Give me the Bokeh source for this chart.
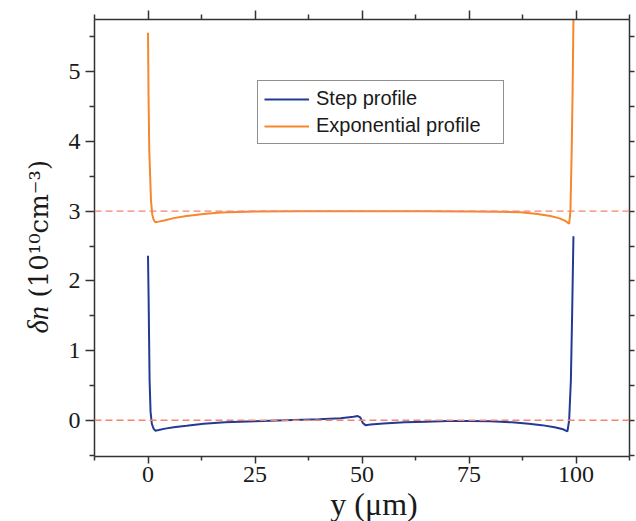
import math
from bokeh.plotting import figure
from bokeh.models import Range1d, LinearAxis, FixedTicker, Span, Legend, LegendItem, Label
from bokeh.embed import file_html
from bokeh.resources import INLINE

# ---------------- data ----------------
step_x = [0, 0.15, 0.37, 0.6, 0.9, 1.3, 1.7, 2.5, 4, 6, 9, 13, 18, 25, 32, 40, 45, 48, 49,
          49.6, 50.2, 50.8, 52, 55, 60, 65, 70, 75, 80, 85, 89, 92, 95, 97, 98.0,
          98.4, 98.8, 99.1, 99.4]
step_y = [2.36, 1.72, 0.57, 0.12, -0.05, -0.12, -0.15, -0.14, -0.12, -0.10, -0.08, -0.05,
          -0.03, -0.015, 0.0, 0.015, 0.03, 0.05, 0.06,
          0.04, -0.04, -0.07, -0.06, -0.045, -0.03, -0.02, -0.01, -0.01, -0.015, -0.03,
          -0.05, -0.07, -0.10, -0.13, -0.16,
          0.0, 0.57, 1.53, 2.64]

exp_x = [0, 0.14, 0.3, 0.7, 1.0, 1.3, 1.7, 2.5, 4, 6, 9, 13, 17, 25, 35, 50, 65, 75,
         82, 87, 91, 94, 96, 97.5, 98.4, 98.7, 99.0, 99.2, 99.45]
exp_y = [5.56, 4.58, 3.87, 3.15, 2.95, 2.88, 2.84, 2.85, 2.87, 2.90, 2.93, 2.96, 2.98,
         2.995, 3.0, 3.0, 3.0, 2.995,
         2.99, 2.985, 2.96, 2.93, 2.90, 2.86, 2.82, 3.0, 3.9, 4.7, 6.0]

series_names = ["Step profile", "Exponential profile"]
ref_levels = [0, 3]

x_major = [0, 25, 50, 75, 100]
x_minor = [-12.5, 12.5, 37.5, 62.5, 87.5, 112.5]
y_major = [0, 1, 2, 3, 4, 5]
y_minor = [-0.5, 0.5, 1.5, 2.5, 3.5, 4.5, 5.5]

# ---------------- layout ----------------
X0, X1 = -12.5, 112.5
Y0, Y1 = -0.52, 5.75
FL, FT, FW, FH = 94, 19, 535, 437   # frame position in the picture (px)


def dx(px):
    return X0 + (px - FL) * (X1 - X0) / FW


def dy(py):
    return Y1 - (py - FT) * (Y1 - Y0) / FH


SERIF = "Liberation Serif"
SANS = "Liberation Sans"
AX = "#333333"
TXT = "#1a1a1a"
NBSP = "\u00a0"

p = figure(frame_width=FW, frame_height=FH,
           x_range=Range1d(X0, X1), y_range=Range1d(Y0, Y1),
           x_axis_location=None, y_axis_location=None,
           output_backend="svg", toolbar_location=None,
           min_border_left=FL, min_border_right=7, min_border_top=FT, min_border_bottom=65)
p.outline_line_color = None
p.grid.visible = False
p.background_fill_color = "white"
p.border_fill_color = "white"


def make_axis(major, minor, labels, tick_out, minor_out, standoff=5):
    ax = LinearAxis(ticker=FixedTicker(ticks=major, minor_ticks=minor))
    ax.axis_line_color = AX
    ax.axis_line_width = 1.5
    ax.major_tick_line_color = AX
    ax.major_tick_line_width = 1.5
    ax.minor_tick_line_color = AX
    ax.minor_tick_line_width = 1.5
    ax.major_tick_in = 0
    ax.major_tick_out = tick_out
    ax.minor_tick_in = 0
    ax.minor_tick_out = minor_out
    if labels:
        ax.major_label_text_font = SERIF
        ax.major_label_text_font_size = "24px"
        ax.major_label_text_color = TXT
        ax.major_label_standoff = standoff
    else:
        ax.major_label_overrides = {t: "" for t in major}
        ax.major_label_text_font_size = "1px"
        ax.major_label_standoff = 0
    return ax

xaxis = make_axis(x_major, x_minor, True, 7, 4, standoff=3)
xaxis.axis_label = NBSP * 3 + "y (μm)"
xaxis.axis_label_text_font = SERIF
xaxis.axis_label_text_font_style = "normal"
xaxis.axis_label_text_font_size = "32px"
xaxis.axis_label_text_color = TXT
xaxis.axis_label_standoff = 1
p.add_layout(xaxis, "below")
p.add_layout(make_axis(y_major, y_minor, True, 9, 5, standoff=5), "left")
p.add_layout(make_axis(x_major, x_minor, False, 9, 5), "above")
p.add_layout(make_axis(y_major, y_minor, False, 5, 5), "right")

for lev in ref_levels:
    p.add_layout(Span(location=lev, dimension="width", line_color="#f4846a",
                      line_width=1.3, line_dash="7 4"))

r1 = p.line(step_x, step_y, line_color="#233a94", line_width=2)
r2 = p.line(exp_x, exp_y, line_color="#f7872b", line_width=2)

legend = Legend(items=[LegendItem(label=series_names[0], renderers=[r1]),
                       LegendItem(label=series_names[1], renderers=[r2])],
                location=(163, 312))
legend.border_line_color = "#222222"
legend.border_line_width = 1
legend.background_fill_color = "white"
legend.background_fill_alpha = 1
legend.padding = 6
legend.spacing = 4
legend.margin = 0
legend.glyph_width = 45
legend.glyph_height = 20
legend.label_height = 20
legend.label_width = 181
legend.label_standoff = 7
legend.label_text_font = SANS
legend.label_text_font_size = "20px"
legend.label_text_color = TXT
p.add_layout(legend)

# ---- y axis title: δn (10^10 cm^-3), two labels in the left margin ----
ytitle = [("δn", SERIF, "italic", "28.5px", 333),
          ("(10¹⁰cm⁻³)", "DejaVu Serif", "normal", "26px", 297)]
for txt, font, style, size, py in ytitle:
    p.add_layout(Label(x=dx(38), y=dy(py), text=txt, angle=math.pi / 2,
                       text_align="left", text_baseline="alphabetic",
                       text_font=font, text_font_style=style,
                       text_font_size=size, text_color=TXT), "left")

open("out.html", "w").write(file_html(p, INLINE))
